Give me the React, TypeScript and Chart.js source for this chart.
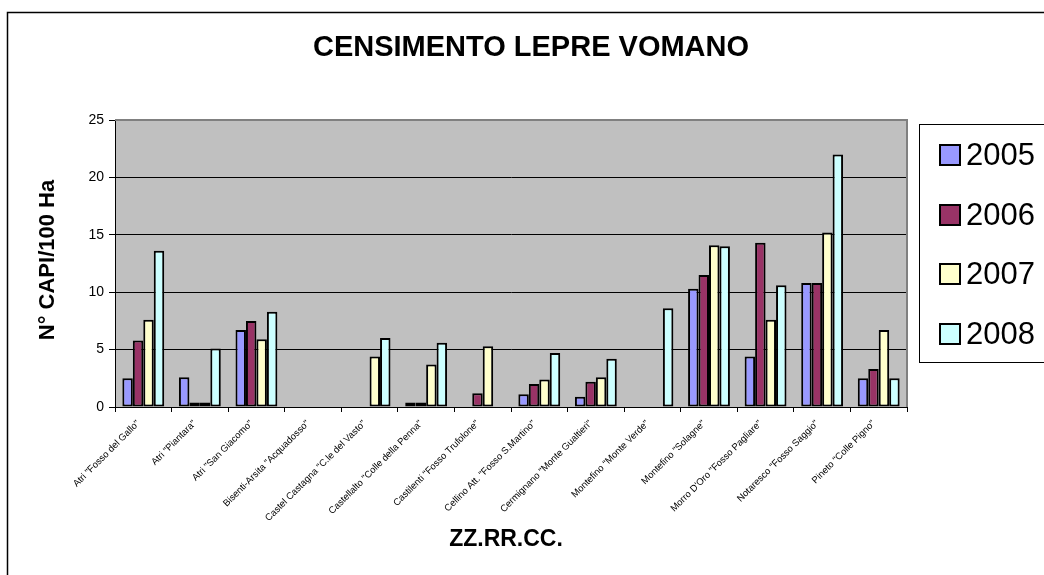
import React, { useEffect, useRef } from "react";
import { Chart, registerables } from "chart.js";

Chart.register(...registerables);

const TITLE = "CENSIMENTO LEPRE VOMANO";
const Y_TITLE = "N° CAPI/100 Ha";
const X_TITLE = "ZZ.RR.CC.";

const categories = [
  'Atri "Fosso del Gallo"',
  'Atri "Piantara"',
  'Atri "San Giacomo"',
  'Bisenti-Arsita "Acquadosso"',
  'Castel Castagna "C.le del Vasto"',
  'Castellalto "Colle della Penna"',
  'Castilenti "Fosso Trufolone"',
  'Cellino Att. "Fosso S.Martino"',
  'Cermignano "Monte Gualtieri"',
  'Montefino "Monte Verde"',
  'Montefino "Solagne"',
  'Morro D\'Oro "Fosso Pagliare"',
  'Notaresco "Fosso Saggio"',
  'Pineto "Colle Pigno"',
];

const years = ["2005", "2006", "2007", "2008"];

const v2005 = [2.5, 2.6, 6.7, 0, 0, 0.4, 0, 1.1, 0.9, 0, 10.3, 4.4, 10.8, 2.5];
const v2006 = [5.8, 0.4, 7.5, 0, 0, 0.4, 1.2, 2.0, 2.2, 0, 11.5, 14.3, 10.8, 3.3];
const v2007 = [7.6, 0.4, 5.9, 0, 4.4, 3.7, 5.3, 2.4, 2.6, 0, 14.1, 7.6, 15.2, 6.7];
const v2008 = [13.6, 5.1, 8.3, 0, 6.0, 5.6, 0, 4.7, 4.2, 8.6, 14.0, 10.6, 22.0, 2.5];

const yTicks = [0, 5, 10, 15, 20, 25];

const colors = ["#9999FF", "#993366", "#FFFFCC", "#CCFFFF"];

const FONT = "'Liberation Sans', Arial, sans-serif";

const decorPlugin = {
  id: "decor",
  beforeDraw(chart: any) {
    const { ctx, chartArea: a } = chart;
    ctx.save();
    ctx.fillStyle = "#ffffff";
    ctx.fillRect(0, 0, chart.width, chart.height);
    ctx.fillStyle = "#C0C0C0";
    ctx.fillRect(a.left, a.top, a.right - a.left, a.bottom - a.top);
    ctx.restore();
  },
  afterDraw(chart: any) {
    const { ctx, chartArea: a } = chart;
    ctx.save();
    // plot border top/right
    ctx.strokeStyle = "#808080";
    ctx.lineWidth = 2;
    ctx.beginPath();
    ctx.moveTo(a.left, a.top);
    ctx.lineTo(a.right, a.top);
    ctx.lineTo(a.right, a.bottom);
    ctx.stroke();

    // outer border
    ctx.strokeStyle = "#000";
    ctx.lineWidth = 1.5;
    ctx.beginPath();
    ctx.moveTo(7.5, chart.height + 2);
    ctx.lineTo(7.5, 12.5);
    ctx.lineTo(chart.width + 2, 12.5);
    ctx.stroke();

    // title
    ctx.fillStyle = "#000";
    ctx.textAlign = "center";
    ctx.textBaseline = "middle";
    ctx.font = `bold 29px ${FONT}`;
    ctx.fillText(TITLE, 531, 48);

    // x title
    ctx.font = `bold 23px ${FONT}`;
    ctx.fillText(X_TITLE, 506, 540);

    // y title
    ctx.save();
    ctx.translate(48, 260);
    ctx.rotate(-Math.PI / 2);
    ctx.font = `bold 22px ${FONT}`;
    ctx.fillText(Y_TITLE, 0, 0);
    ctx.restore();

    // legend
    ctx.strokeStyle = "#000";
    ctx.lineWidth = 1;
    ctx.strokeRect(919.5, 124.5, 140, 238);
    const ys = [155, 215, 274, 334];
    chart.data.datasets.forEach((ds: any, i: number) => {
      const y = ys[i];
      ctx.fillStyle = ds.backgroundColor;
      ctx.fillRect(940, y - 10, 20, 20);
      ctx.strokeStyle = "#000";
      ctx.lineWidth = 2;
      ctx.strokeRect(940, y - 10, 20, 20);
      ctx.fillStyle = "#000";
      ctx.textAlign = "left";
      ctx.textBaseline = "middle";
      ctx.font = `31px ${FONT}`;
      ctx.fillText(ds.label, 966, y + 1);
    });
    ctx.restore();
  },
};

export default function App() {
  const ref = useRef<HTMLCanvasElement>(null);
  useEffect(() => {
    if (!ref.current) return;
    const series = [v2005, v2006, v2007, v2008];
    const chart = new Chart(ref.current, {
      type: "bar",
      data: {
        labels: categories,
        datasets: years.map((y, i) => ({
          label: y,
          data: series[i],
          backgroundColor: colors[i],
          borderColor: "#000",
          borderWidth: 2,
          borderSkipped: false,
          categoryPercentage: 0.74,
          barPercentage: 1.0,
        })),
      },
      options: {
        responsive: false,
        animation: false,
        devicePixelRatio: 1,
        layout: { padding: { top: 120, right: 137, bottom: 0, left: 0 } },
        plugins: {
          legend: { display: false },
          title: { display: false },
          tooltip: { enabled: false },
        },
        scales: {
          x: {
            offset: true,
            afterFit: (s: any) => {
              s.height = 168;
            },
            grid: {
              offset: true,
              drawOnChartArea: false,
              drawTicks: true,
              tickLength: 5,
              tickColor: "#000",
            },
            border: { color: "#000", width: 1 },
            ticks: {
              autoSkip: false,
              minRotation: 45,
              maxRotation: 45,
              padding: 6,
              labelOffset: -5,
              color: "#000",
              font: { family: FONT, size: 9.5 },
            },
          },
          y: {
            min: 0,
            max: 25,
            afterFit: (s: any) => {
              s.width = 115;
            },
            afterBuildTicks: (s: any) => {
              s.ticks = yTicks.map((v) => ({ value: v }));
            },
            grid: {
              color: (c: any) => (c.tick && c.tick.value === 25 ? "#808080" : "#000"),
              tickColor: "#000",
              tickLength: 6,
              lineWidth: 1,
            },
            border: { color: "#000", width: 1 },
            ticks: {
              padding: 5,
              color: "#000",
              font: { family: FONT, size: 14 },
            },
          },
        },
      },
      plugins: [decorPlugin],
    });
    return () => chart.destroy();
  }, []);
  return (
    <div style={{ position: "fixed", left: 0, top: 0, width: 1044, height: 575 }}>
      <canvas ref={ref} width={1044} height={575} />
    </div>
  );
}
